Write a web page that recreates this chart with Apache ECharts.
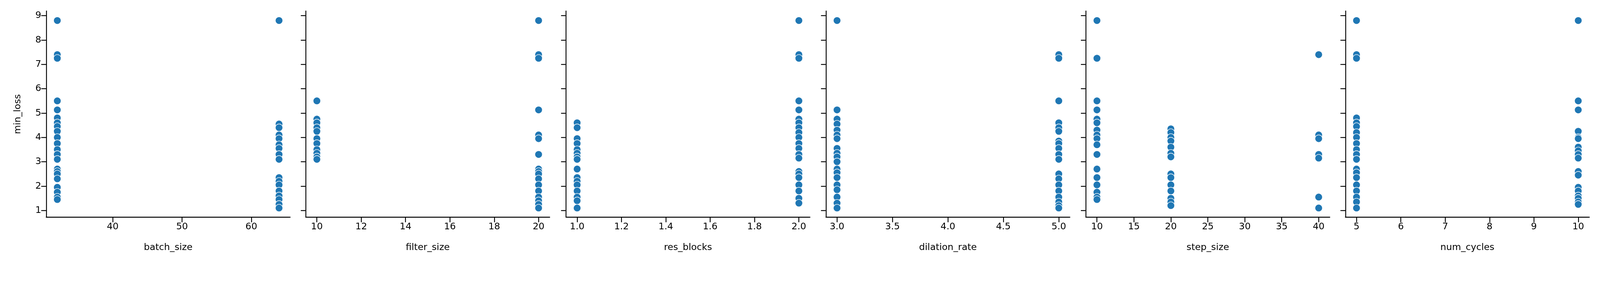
<!DOCTYPE html>
<html><head><meta charset="utf-8">
<script src="https://cdn.jsdelivr.net/npm/echarts@6/dist/echarts.min.js"></script>
<style>html,body{margin:0;background:#fff;overflow:hidden}#c{width:100vw;height:100vh}</style>
</head><body><div id="c"></div>
<script>
const panelNames = ['batch_size','filter_size','res_blocks','dilation_rate','step_size','num_cycles'];
const xMins = [30.4, 9.5, 0.95, 2.9, 8.5, 4.75];
const xMaxs = [65.6, 20.5, 2.05, 5.1, 41.5, 10.25];
const xTicks = [[40,50,60],[10,12,14,16,18,20],[1.0,1.2,1.4,1.6,1.8,2.0],[3.0,3.5,4.0,4.5,5.0],[10,15,20,25,30,35,40],[5,6,7,8,9,10]];
const xDecimals = [0,0,1,1,0,0];
const yTicks = [1,2,3,4,5,6,7,8,9];
// [x value, min_loss values]
const batchSize = [
 [32,[8.8,7.4,7.25,5.5,5.13,4.8,4.6,4.45,4.25,4.0,3.75,3.5,3.3,3.1,2.7,2.6,2.5,2.3,1.95,1.75,1.55,1.45]],
 [64,[8.8,4.55,4.4,4.1,3.95,3.7,3.55,3.3,3.1,2.35,2.2,2.05,1.8,1.6,1.45,1.25,1.1]]];
const filterSize = [
 [10,[5.5,4.75,4.6,4.4,4.25,3.95,3.75,3.5,3.35,3.2,3.1]],
 [20,[8.8,7.4,7.25,5.13,4.1,3.95,3.3,2.7,2.6,2.5,2.3,2.05,1.8,1.55,1.4,1.25,1.1]]];
const resBlocks = [
 [1.0,[4.6,4.4,3.95,3.75,3.5,3.35,3.2,3.1,2.7,2.35,2.2,2.05,1.8,1.55,1.4,1.1]],
 [2.0,[8.8,7.4,7.25,5.5,5.13,4.75,4.6,4.4,4.2,4.0,3.75,3.55,3.3,3.15,2.6,2.5,2.35,2.05,1.8,1.5,1.3]]];
const dilationRate = [
 [3.0,[8.8,5.13,4.75,4.55,4.3,4.1,3.95,3.55,3.35,3.2,3.0,2.7,2.55,2.35,2.05,1.85,1.55,1.3,1.1]],
 [5.0,[7.4,7.25,5.5,4.6,4.4,4.25,3.85,3.75,3.55,3.3,3.1,2.5,2.3,2.05,1.8,1.55,1.35,1.2,1.1]]];
const stepSize = [
 [10,[8.8,7.25,5.5,5.13,4.75,4.6,4.3,4.1,3.95,3.7,3.3,2.7,2.35,2.05,1.75,1.55,1.45]],
 [20,[4.35,4.2,4.0,3.85,3.6,3.35,3.2,2.5,2.35,2.05,1.8,1.5,1.35,1.2]],
 [40,[7.4,4.1,3.95,3.3,3.15,1.55,1.1]]];
const numCycles = [
 [5,[8.8,7.4,7.25,4.8,4.6,4.45,4.2,4.0,3.75,3.5,3.3,3.1,2.7,2.55,2.35,2.05,1.8,1.55,1.35,1.1]],
 [10,[8.8,5.5,5.13,4.25,4.0,3.95,3.6,3.45,3.3,3.15,2.6,2.45,1.95,1.8,1.6,1.5,1.35,1.25]]];
const panels = [batchSize, filterSize, resBlocks, dilationRate, stepSize, numCycles];

const el = document.getElementById('c');
const k = Math.min(el.clientWidth/4500, el.clientHeight/750);
const lefts = [130, 860, 1592, 2323, 3054, 3784];
const W = 686, TOP = 31, H = 580;
const font = 'DejaVu Sans';
const fs = 26*k, lw = 2.5*k;
const grid=[], xAxis=[], yAxis=[], series=[];
panels.forEach((p,i)=>{
  grid.push({left:lefts[i]*k, top:TOP*k, width:W*k, height:H*k});
  xAxis.push({gridIndex:i, type:'value', min:xMins[i], max:xMaxs[i],
    name:panelNames[i], nameLocation:'middle', nameGap:72*k,
    nameTextStyle:{fontFamily:font,fontSize:fs,color:'#000'},
    axisLine:{show:true,onZero:false,lineStyle:{color:'#000',width:lw}},
    axisTick:{show:true,length:14*k,lineStyle:{color:'#000',width:lw},customValues:xTicks[i]},
    axisLabel:{fontFamily:font,fontSize:fs,color:'#000',margin:14*k,customValues:xTicks[i],
      formatter:v=>Number(v).toFixed(xDecimals[i])},
    splitLine:{show:false}});
  yAxis.push({gridIndex:i, type:'value', min:0.72, max:9.19,
    name:i===0?'min_loss':'', nameLocation:'middle', nameGap:66*k,
    nameTextStyle:{fontFamily:font,fontSize:fs,color:'#000'},
    axisLine:{show:true,onZero:false,lineStyle:{color:'#000',width:lw}},
    axisTick:{show:true,length:14*k,lineStyle:{color:'#000',width:lw},customValues:yTicks},
    axisLabel:{show:i===0,fontFamily:font,fontSize:fs,color:'#000',margin:14*k,customValues:yTicks},
    splitLine:{show:false}});
  const data=[];
  p.forEach(([x,ys])=>ys.forEach(y=>data.push([x,y])));
  series.push({type:'scatter', xAxisIndex:i, yAxisIndex:i, data, symbolSize:21*k,
    itemStyle:{color:'#1f77b4', borderColor:'#fff', borderWidth:1.5*k, opacity:1}, animation:false});
});
const chart = echarts.init(el);
chart.setOption({animation:false, grid, xAxis, yAxis, series});
</script></body></html>
